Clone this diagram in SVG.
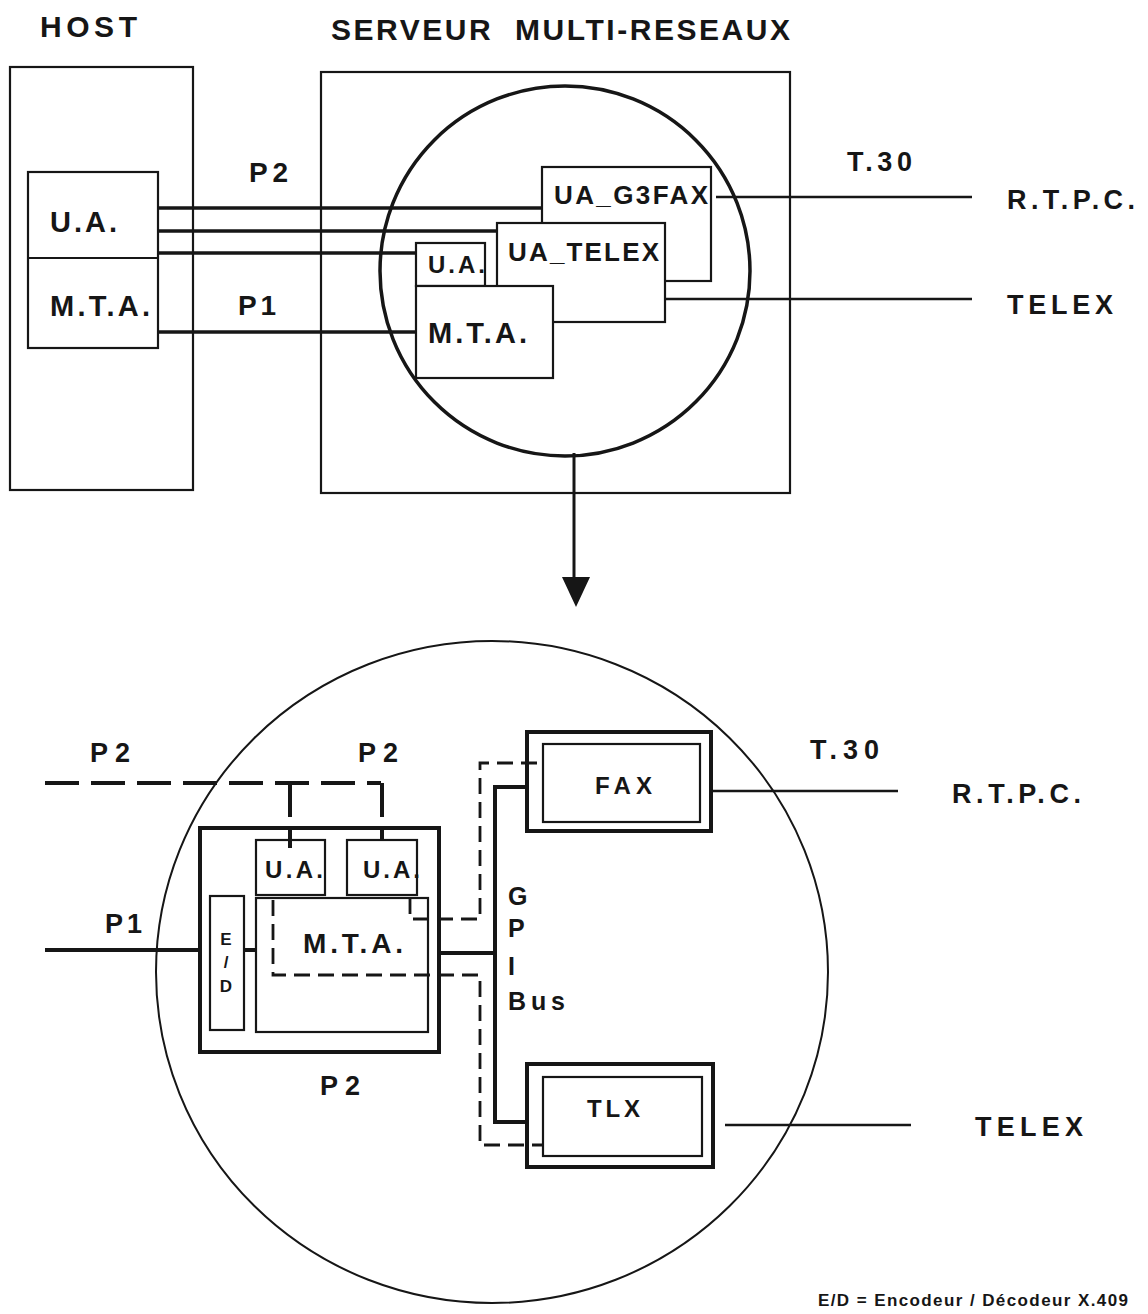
<svg xmlns="http://www.w3.org/2000/svg" width="1148" height="1314" viewBox="0 0 1148 1314">
<style>
text{font-family:"Liberation Sans",Arial,sans-serif;font-weight:bold;fill:#161616}
.box{fill:#fff;stroke:#161616;stroke-width:2.2}
.tk{fill:none;stroke:#161616;stroke-width:3.5}
.th{fill:none;stroke:#161616;stroke-width:2.2}
.obox{fill:#fff;stroke:#161616;stroke-width:4}
.dash{fill:none;stroke:#161616;stroke-width:2.8;stroke-dasharray:16 8}
.dashb{fill:none;stroke:#161616;stroke-width:4;stroke-dasharray:34 12}
</style>
<rect width="1148" height="1314" fill="#fff"/>

<g id="titles">
<text x="40" y="37" font-size="30" textLength="97" lengthAdjust="spacing">HOST</text>
<text x="331" y="40" font-size="30" textLength="459" lengthAdjust="spacing" xml:space="preserve">SERVEUR  MULTI-RESEAUX</text>
</g>

<g id="host">
<rect x="10" y="67" width="183" height="423" class="box"/>
<rect x="28" y="172" width="130" height="176" class="box"/>
<line x1="28" y1="258" x2="158" y2="258" class="th"/>
<text x="50" y="232" font-size="29" textLength="67" lengthAdjust="spacing">U.A.</text>
<text x="50" y="316" font-size="29" textLength="100" lengthAdjust="spacing">M.T.A.</text>
</g>

<g id="server">
<rect x="321" y="72" width="469" height="421" class="box"/>
<circle cx="565" cy="271" r="185" fill="none" stroke="#161616" stroke-width="3.5"/>
</g>

<g id="connectors-top">
<line x1="158" y1="208" x2="542" y2="208" class="tk"/>
<line x1="158" y1="231" x2="497" y2="231" class="tk"/>
<line x1="158" y1="253" x2="416" y2="253" class="tk"/>
<line x1="158" y1="332" x2="416" y2="332" class="tk"/>
<line x1="716" y1="197" x2="972" y2="197" stroke="#161616" stroke-width="2.6"/>
<line x1="665" y1="299" x2="972" y2="299" stroke="#161616" stroke-width="2.6"/>
<line x1="574" y1="453" x2="574" y2="580" stroke="#161616" stroke-width="3"/>
<polygon points="562,577 590,577 576,607" fill="#161616"/>
<text x="249" y="182" font-size="28" textLength="39" lengthAdjust="spacing">P2</text>
<text x="238" y="315" font-size="28" textLength="38" lengthAdjust="spacing">P1</text>
<text x="847" y="171" font-size="27" textLength="65" lengthAdjust="spacing">T.30</text>
<text x="1007" y="209" font-size="27" textLength="128" lengthAdjust="spacing">R.T.P.C.</text>
<text x="1007" y="314" font-size="27" textLength="106" lengthAdjust="spacing">TELEX</text>
</g>

<g id="ua-g3fax">
<rect x="542" y="167" width="169" height="114" class="box"/>
<text x="554" y="204" font-size="26" textLength="154" lengthAdjust="spacing">UA_G3FAX</text>
</g>
<g id="ua-telex">
<rect x="497" y="223" width="168" height="99" class="box"/>
<text x="508" y="261" font-size="26" textLength="151" lengthAdjust="spacing">UA_TELEX</text>
</g>
<g id="ua-small">
<rect x="416" y="243" width="69" height="43" class="box"/>
<text x="428" y="273" font-size="24" textLength="57" lengthAdjust="spacing">U.A.</text>
</g>
<g id="mta-top">
<rect x="416" y="286" width="137" height="92" class="box"/>
<text x="428" y="343" font-size="29" textLength="99" lengthAdjust="spacing">M.T.A.</text>
</g>

<g id="zoom-circle">
<ellipse cx="492" cy="972" rx="336" ry="331" fill="none" stroke="#161616" stroke-width="2"/>
</g>

<g id="mta-block">
<rect x="200" y="828" width="239" height="224" class="obox"/>
<rect x="256" y="898" width="172" height="134" class="box" stroke-width="2.6"/>
<text x="303" y="953" font-size="28" textLength="100" lengthAdjust="spacing">M.T.A.</text>
</g>
<g id="ua-1">
<rect x="256" y="840" width="69" height="55" class="box" stroke-width="2.6"/>
<text x="265" y="878" font-size="24" textLength="58" lengthAdjust="spacing">U.A.</text>
</g>
<g id="ua-2">
<rect x="347" y="840" width="70" height="55" class="box" stroke-width="2.6"/>
<text x="363" y="878" font-size="24" textLength="57" lengthAdjust="spacing">U.A.</text>
</g>
<g id="ed">
<rect x="210" y="896" width="34" height="134" class="box" stroke-width="2.6"/>
<text x="226" y="945" font-size="17" text-anchor="middle">E</text>
<text x="226" y="968" font-size="17" text-anchor="middle">/</text>
<text x="226" y="992" font-size="17" text-anchor="middle">D</text>
</g>

<g id="fax">
<rect x="527" y="732" width="184" height="99" class="obox"/>
<rect x="543" y="744" width="157" height="78" class="box" stroke-width="2.6"/>
<text x="595" y="794" font-size="24" textLength="57" lengthAdjust="spacing">FAX</text>
</g>
<g id="tlx">
<rect x="527" y="1064" width="186" height="103" class="obox"/>
<rect x="543" y="1077" width="159" height="79" class="box" stroke-width="2.6"/>
<text x="587" y="1117" font-size="24" textLength="53" lengthAdjust="spacing">TLX</text>
</g>

<g id="connectors-bottom">
<path d="M45,783 H381" class="dashb"/>
<path d="M290,783 V848" class="dashb" stroke-dasharray="14 8"/>
<path d="M382,783 V840" class="dashb" stroke-dasharray="14 8"/>
<path d="M273,900 V975 H480 V1145 H543" class="dash"/>
<path d="M410,898 V919 H480 V763 H543" class="dash"/>
<line x1="45" y1="950" x2="200" y2="950" stroke="#161616" stroke-width="4"/>
<line x1="244" y1="950" x2="256" y2="950" stroke="#161616" stroke-width="4"/>
<path d="M439,953 H495 M527,787 H495 V1122 H527" fill="none" stroke="#161616" stroke-width="4"/>
<line x1="711" y1="791" x2="898" y2="791" stroke="#161616" stroke-width="2.6"/>
<line x1="725" y1="1125" x2="911" y2="1125" stroke="#161616" stroke-width="2.6"/>
<text x="90" y="762" font-size="27" textLength="40" lengthAdjust="spacing">P2</text>
<text x="358" y="762" font-size="27" textLength="40" lengthAdjust="spacing">P2</text>
<text x="105" y="933" font-size="27" textLength="37" lengthAdjust="spacing">P1</text>
<text x="320" y="1095" font-size="27" textLength="40" lengthAdjust="spacing">P2</text>
<text x="508" y="905" font-size="25">G</text>
<text x="508" y="937" font-size="25">P</text>
<text x="508" y="975" font-size="25">I</text>
<text x="508" y="1010" font-size="25" textLength="57" lengthAdjust="spacing">Bus</text>
<text x="810" y="759" font-size="27" textLength="69" lengthAdjust="spacing">T.30</text>
<text x="952" y="803" font-size="27" textLength="129" lengthAdjust="spacing">R.T.P.C.</text>
<text x="975" y="1136" font-size="27" textLength="108" lengthAdjust="spacing">TELEX</text>
</g>

<g id="legend">
<text x="818" y="1306" font-size="17" textLength="310" lengthAdjust="spacing">E/D = Encodeur / Décodeur X.409</text>
</g>
</svg>
